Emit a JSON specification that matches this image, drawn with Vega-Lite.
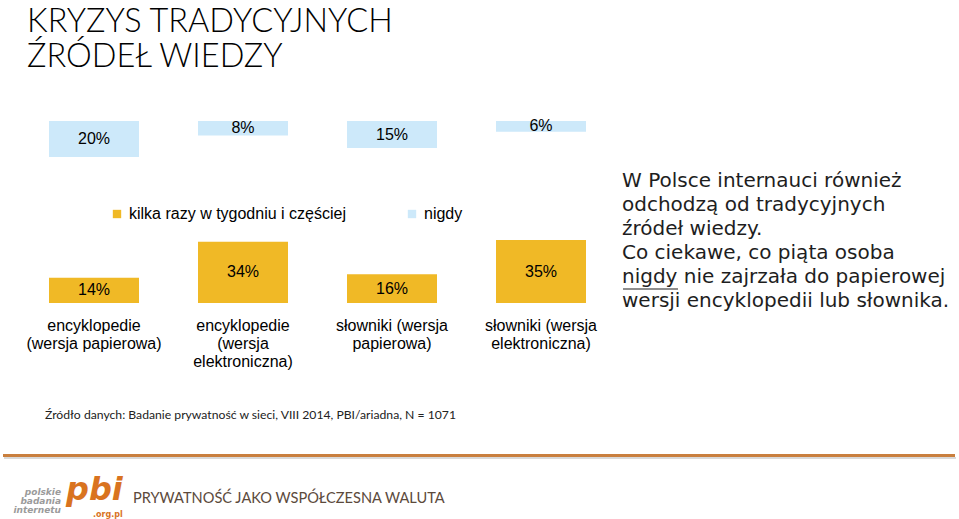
{
  "$schema": "https://vega.github.io/schema/vega-lite/v6.json",
  "width": 959,
  "height": 519,
  "autosize": {"type": "none"},
  "padding": 0,
  "background": "#ffffff",
  "config": {"view": {"stroke": null}},
  "data": {
    "values": [
      {"kategoria": "encyklopedie (wersja papierowa)", "seria": "kilka razy w tygodniu i częściej", "udzial": 0.14},
      {"kategoria": "encyklopedie (wersja elektroniczna)", "seria": "kilka razy w tygodniu i częściej", "udzial": 0.34},
      {"kategoria": "słowniki (wersja papierowa)", "seria": "kilka razy w tygodniu i częściej", "udzial": 0.16},
      {"kategoria": "słowniki (wersja elektroniczna)", "seria": "kilka razy w tygodniu i częściej", "udzial": 0.35},
      {"kategoria": "encyklopedie (wersja papierowa)", "seria": "nigdy", "udzial": 0.20},
      {"kategoria": "encyklopedie (wersja elektroniczna)", "seria": "nigdy", "udzial": 0.08},
      {"kategoria": "słowniki (wersja papierowa)", "seria": "nigdy", "udzial": 0.15},
      {"kategoria": "słowniki (wersja elektroniczna)", "seria": "nigdy", "udzial": 0.06}
    ]
  },
  "resolve": {"scale": {"y": "independent"}},
  "layer": [
    {
      "transform": [{"filter": "datum.seria === 'kilka razy w tygodniu i częściej'"}],
      "mark": {"type": "bar"},
      "encoding": {
        "x": {
          "field": "kategoria", "type": "nominal",
          "scale": {"type": "band", "domain": ["encyklopedie (wersja papierowa)", "encyklopedie (wersja elektroniczna)", "słowniki (wersja papierowa)", "słowniki (wersja elektroniczna)"], "range": [49, 586], "paddingInner": 0.396, "paddingOuter": 0},
          "axis": {
            "title": null, "orient": "bottom", "offset": -202, "domain": false, "ticks": false, "labelPadding": 0,
            "labelAngle": 0, "labelFont": "Liberation Sans", "labelFontSize": 16, "labelColor": "#000000", "labelLineHeight": 18, "labelLimit": 300, "labelBaseline": "top",
            "labelExpr": "datum.value === 'encyklopedie (wersja papierowa)' ? ['encyklopedie', '(wersja papierowa)'] : datum.value === 'encyklopedie (wersja elektroniczna)' ? ['encyklopedie', '(wersja', 'elektroniczna)'] : datum.value === 'słowniki (wersja papierowa)' ? ['słowniki (wersja', 'papierowa)'] : ['słowniki (wersja', 'elektroniczna)']"
          }
        },
        "y": {"field": "udzial", "type": "quantitative", "scale": {"domain": [0, 1], "range": [303, 123], "nice": false}, "axis": null},
        "color": {
          "field": "seria", "type": "nominal",
          "scale": {"domain": ["kilka razy w tygodniu i częściej", "nigdy"], "range": ["#F0B926", "#CDE9FA"]},
          "legend": {
            "title": null, "orient": "none", "legendX": 109, "legendY": 206, "direction": "horizontal",
            "symbolType": "square", "symbolSize": 70, "symbolStrokeWidth": 0, "labelFont": "Liberation Sans",
            "labelFontSize": 16, "labelColor": "#000000", "columnPadding": 58, "labelOffset": 4, "padding": 0, "labelLimit": 500
          }
        }
      }
    },
    {
      "transform": [{"filter": "datum.seria === 'nigdy'"}],
      "mark": {"type": "bar"},
      "encoding": {
        "x": {"field": "kategoria", "type": "nominal"},
        "y": {"field": "udzial", "type": "quantitative", "scale": {"domain": [0, 1], "range": [121, 301], "nice": false}, "axis": null},
        "color": {"field": "seria", "type": "nominal"}
      }
    },
    {
      "transform": [{"filter": "datum.seria === 'kilka razy w tygodniu i częściej'"}],
      "mark": {"type": "text", "font": "Liberation Sans", "fontSize": 16, "color": "#000000", "baseline": "middle"},
      "encoding": {
        "x": {"field": "kategoria", "type": "nominal"},
        "y": {"field": "udzial", "type": "quantitative", "scale": {"domain": [0, 1], "range": [303, 213], "nice": false}, "axis": null},
        "text": {"field": "udzial", "type": "quantitative", "format": ".0%"}
      }
    },
    {
      "transform": [{"filter": "datum.seria === 'nigdy'"}],
      "mark": {"type": "text", "font": "Liberation Sans", "fontSize": 16, "color": "#000000", "baseline": "middle"},
      "encoding": {
        "x": {"field": "kategoria", "type": "nominal"},
        "y": {"field": "udzial", "type": "quantitative", "scale": {"domain": [0, 1], "range": [121, 211], "nice": false}, "axis": null},
        "text": {"field": "udzial", "type": "quantitative", "format": ".0%"}
      }
    },
    {
      "data": {"values": [{"tekst": "KRYZYS TRADYCYJNYCH\nŹRÓDEŁ WIEDZY"}]},
      "mark": {"type": "text", "font": "Lato", "fontSize": 32.5, "fontWeight": 300, "lineHeight": 35, "lineBreak": "\n", "align": "left", "baseline": "alphabetic", "color": "#000000"},
      "encoding": {"x": {"value": 27}, "y": {"value": 32}, "text": {"field": "tekst"}}
    },
    {
      "data": {"values": [{"tekst": "W Polsce internauci również\nodchodzą od tradycyjnych\nźródeł wiedzy.\nCo ciekawe, co piąta osoba\nnigdy nie zajrzała do papierowej\nwersji encyklopedii lub słownika."}]},
      "mark": {"type": "text", "font": "DejaVu Sans", "fontSize": 20, "lineHeight": 24, "lineBreak": "\n", "align": "left", "baseline": "alphabetic", "color": "#1e1e1e"},
      "encoding": {"x": {"value": 622}, "y": {"value": 187}, "text": {"field": "tekst"}}
    },
    {
      "data": {"values": [{}]},
      "mark": {"type": "rule", "color": "#1e1e1e", "strokeWidth": 1.2},
      "encoding": {"x": {"value": 623}, "x2": {"value": 678}, "y": {"value": 289}}
    },
    {
      "data": {"values": [{"tekst": "Źródło danych: Badanie prywatność w sieci, VIII 2014, PBI/ariadna, N = 1071"}]},
      "mark": {"type": "text", "font": "Lato", "fontSize": 12.2, "align": "left", "baseline": "alphabetic", "color": "#222222"},
      "encoding": {"x": {"value": 45}, "y": {"value": 419}, "text": {"field": "tekst"}}
    },
    {
      "data": {"values": [{}]},
      "mark": {"type": "rule", "color": "#d9d9d9", "strokeWidth": 2},
      "encoding": {"x": {"value": 4}, "x2": {"value": 956}, "y": {"value": 458}}
    },
    {
      "data": {"values": [{}]},
      "mark": {"type": "rule", "color": "#C97F3E", "strokeWidth": 3},
      "encoding": {"x": {"value": 3}, "x2": {"value": 955}, "y": {"value": 455.5}}
    },
    {
      "data": {"values": [{"tekst": "polskie\nbadania\ninternetu"}]},
      "mark": {"type": "text", "font": "DejaVu Sans", "fontSize": 9, "fontWeight": "bold", "fontStyle": "italic", "lineHeight": 9, "lineBreak": "\n", "align": "right", "baseline": "alphabetic", "color": "#9b9b9b"},
      "encoding": {"x": {"value": 61}, "y": {"value": 495}, "text": {"field": "tekst"}}
    },
    {
      "data": {"values": [{"tekst": "pbi"}]},
      "mark": {"type": "text", "font": "DejaVu Sans", "fontSize": 32, "fontWeight": "bold", "fontStyle": "italic", "align": "left", "baseline": "alphabetic", "color": "#D9731F"},
      "encoding": {"x": {"value": 66}, "y": {"value": 500}, "text": {"field": "tekst"}}
    },
    {
      "data": {"values": [{"tekst": ".org.pl"}]},
      "mark": {"type": "text", "font": "DejaVu Sans", "fontSize": 8, "fontWeight": "bold", "align": "left", "baseline": "alphabetic", "color": "#D9731F"},
      "encoding": {"x": {"value": 93}, "y": {"value": 517}, "text": {"field": "tekst"}}
    },
    {
      "data": {"values": [{"tekst": "PRYWATNOŚĆ JAKO WSPÓŁCZESNA WALUTA"}]},
      "mark": {"type": "text", "font": "Lato", "fontSize": 14.6, "align": "left", "baseline": "alphabetic", "color": "#5c4a3c"},
      "encoding": {"x": {"value": 133}, "y": {"value": 503}, "text": {"field": "tekst"}}
    }
  ]
}
